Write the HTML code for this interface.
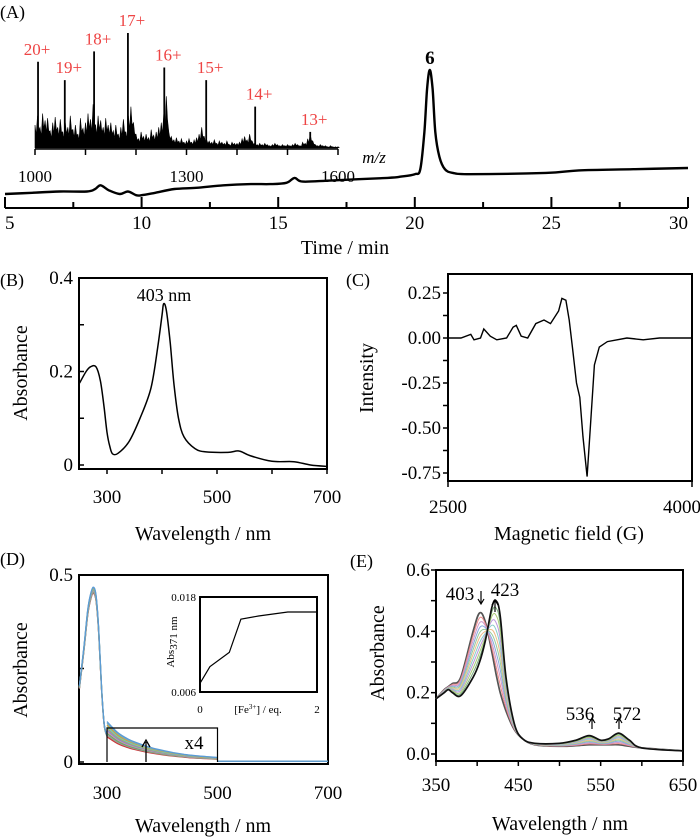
<!DOCTYPE html>
<html><head><meta charset="utf-8">
<style>
html,body{margin:0;padding:0;background:#fff;}
svg{display:block;font-family:"Liberation Serif",serif;}
</style></head>
<body>
<svg id="fig" width="700" height="838" viewBox="0 0 700 838" xmlns="http://www.w3.org/2000/svg">
<g id="A"></g>
<g id="B"></g>
<g id="C"></g>
<g id="D"></g>
<g id="E"></g>
</svg>
<script>
// ---------- DATA ----------
const chromTime = [5,6,7,8,8.3,8.5,8.8,9.2,9.5,9.8,10,10.5,11.2,12,13,14,14.7,15.3,15.6,15.9,17,19,19.5,20,20.2,20.35,20.45,20.55,20.65,20.75,20.9,21.1,21.4,22,24.8,26,28,30];
const chromSignal = [0.0,0.01,0.02,0.02,0.04,0.07,0.03,0.0,0.02,-0.01,-0.01,0.01,0.04,0.05,0.07,0.08,0.08,0.09,0.13,0.1,0.11,0.13,0.14,0.16,0.2,0.5,0.85,1.0,0.85,0.5,0.3,0.2,0.17,0.16,0.17,0.19,0.2,0.21];
const timeTicks = [5,10,15,20,25,30];
const peakLabel = "6";
const msPeakMz = [1006,1059,1117,1184,1256,1339,1436,1545];
const msPeakInt = [75,59,84,100,70,59,36,14];
const msPeakLabels = ["20+","19+","18+","17+","16+","15+","14+","13+"];
const msNoiseStart = 1000, msNoiseStep = 5;
const msNoiseInt = [20,28,18,30,24,26,15,22,27,18,
 25,14,22,18,28,16,20,12,26,17,
 22,30,25,38,20,28,24,18,26,20,
 22,15,20,12,18,25,14,28,36,22,
 12,8,14,10,12,9,16,11,14,18,
 22,30,45,14,10,7,9,6,8,5,
 6,8,5,7,9,12,18,10,7,6,
 5,7,4,6,5,4,6,3,5,4,
 4,5,8,10,7,12,6,4,3,4,
 3,4,3,2,3,4,3,2,3,2,
 3,2,3,4,3,2,5,4,8,12,
 6,3,2,3,2,2,1,2,1,1,1];
const mzTicks = [1000,1100,1200,1300,1400,1500,1600];
const mzLabels = [1000,1300,1600];
const bWave = [250,262,270,280,288,295,300,305,310,320,340,360,380,392,400,403,408,415,422,430,440,460,480,520,540,560,600,640,670,700];
const bAbs = [0.175,0.2,0.21,0.21,0.18,0.12,0.07,0.04,0.024,0.025,0.05,0.1,0.165,0.25,0.32,0.345,0.33,0.26,0.17,0.1,0.06,0.035,0.028,0.027,0.03,0.02,0.008,0.007,0.0,-0.003];
const bYTicks = [0,0.2,0.4];
const bXTicks = [300,500,700];
const cField = [2500,2580,2640,2660,2700,2720,2760,2800,2860,2900,2920,2950,2990,3040,3090,3130,3180,3200,3225,3245,3265,3290,3310,3330,3355,3375,3400,3430,3480,3600,3700,3800,3900,4000];
const cInt = [0,0,0.02,-0.01,0.0,0.05,0.01,-0.01,0.0,0.06,0.07,0.01,0.0,0.08,0.1,0.08,0.15,0.22,0.21,0.1,-0.05,-0.25,-0.33,-0.55,-0.77,-0.5,-0.15,-0.05,-0.02,0.0,-0.01,0.0,0.0,0.0];
const cYTicks = [0.25,0,-0.25,-0.5,-0.75];
const cYLabels = ["0.25","0.00","-0.25","-0.50","-0.75"];
const cXTicks = [2500,4000];
const dWave = [250,258,265,270,275,280,285,290,295,300];
const dAbs = [0.2,0.3,0.4,0.44,0.46,0.44,0.35,0.2,0.1,0.07];
const dTailWave = [300,320,340,360,380,400,420,440,460,480,500];
const dTailAbs = [0.09,0.065,0.05,0.04,0.032,0.026,0.021,0.017,0.014,0.012,0.01];
const dTailScales = [0.75,0.8,0.85,0.9,0.95,1.0,1.05,1.1,1.15,1.2];
const dColors = ["#c33","#999","#6a6","#c9a","#88c","#aa6","#6cc","#d9a030","#7ab","#5b9bd5"];
const dYTicks = [0,0.5];
const dXTicks = [300,500,700];
const insetEq = [0,0.17,0.5,0.7,1.0,1.5,2.0];
const insetAbs = [0.0071,0.0092,0.011,0.0152,0.0156,0.0161,0.0161];
const eWave = [350,360,365,370,380,395,403,410,418,423,428,435,445,455,470,500,520,536,550,560,572,585,600,650];
const eFinal = [0.18,0.2,0.21,0.2,0.19,0.25,0.3,0.37,0.48,0.5,0.45,0.25,0.1,0.05,0.035,0.035,0.045,0.06,0.045,0.05,0.068,0.045,0.02,0.01];
const eInitial = [0.18,0.21,0.22,0.23,0.25,0.4,0.46,0.43,0.33,0.26,0.2,0.14,0.08,0.05,0.03,0.025,0.027,0.03,0.03,0.03,0.03,0.025,0.02,0.01];
const eMix = [0,0.1,0.2,0.3,0.4,0.5,0.6,0.7,0.8,0.9,1];
const eColors = ["#555","#e88","#c9c","#8ad","#9c9","#eb8","#8cc","#b9d","#ac7","#7a7","#111"];
const eYTicks = [0,0.2,0.4,0.6];
const eYLabels = ["0.0","0.2","0.4","0.6"];
const eXTicks = [350,450,550,650];

// ---------- HELPERS ----------
const NS="http://www.w3.org/2000/svg";
const TF=19, TT=20;
function mk(parent,tag,attrs,text){const e=document.createElementNS(NS,tag);for(const k in attrs)e.setAttribute(k,attrs[k]);if(text!==undefined)e.textContent=text;parent.appendChild(e);return e;}
function path(xs,ys,fx,fy){return xs.map((x,i)=>(i?"L":"M")+fx(x).toFixed(1)+","+fy(ys[i]).toFixed(1)).join("");}
function smooth(xs,ys,fx,fy){
 const P=xs.map((x,i)=>[fx(x),fy(ys[i])]);let d="M"+P[0][0].toFixed(1)+","+P[0][1].toFixed(1);
 for(let i=0;i<P.length-1;i++){const p0=P[Math.max(0,i-1)],p1=P[i],p2=P[i+1],p3=P[Math.min(P.length-1,i+2)];
  const c1=[p1[0]+(p2[0]-p0[0])/6,p1[1]+(p2[1]-p0[1])/6],c2=[p2[0]-(p3[0]-p1[0])/6,p2[1]-(p3[1]-p1[1])/6];
  d+="C"+c1.map(v=>v.toFixed(1))+" "+c2.map(v=>v.toFixed(1))+" "+p2[0].toFixed(1)+","+p2[1].toFixed(1);}
 return d;}
function lin(d0,d1,r0,r1){return v=>r0+(v-d0)/(d1-d0)*(r1-r0);}
function box(g,l,r,t,b,name){let bx=mk(g,"rect",{x:l,y:t,width:r-l,height:b-t,fill:"none",stroke:"#000","stroke-width":2});
 }

// ---------- PANEL A ----------
(function(){
const g=document.getElementById("A");
let t=mk(g,"text",{x:0,y:18,"font-size":18},"(A)");

const x=lin(5,30,5,688), y=lin(0,1,194,70);
let ax=mk(g,"line",{x1:5,y1:208,x2:688,y2:208,stroke:"#000","stroke-width":2});

for(let v=5;v<=30;v+=2.5){const major=timeTicks.includes(v);
 let tk=mk(g,"line",{x1:x(v),x2:x(v),y1:208,y2:major?197:202,stroke:"#000","stroke-width":2});
 }
timeTicks.forEach(v=>{let l=mk(g,"text",{x:x(v),y:229,"font-size":TF,"text-anchor":v==5?"start":(v==30?"end":"middle")},v);
 });
let xt=mk(g,"text",{x:345,y:254,"font-size":TT,"text-anchor":"middle"},"Time / min");

let p=mk(g,"path",{d:smooth(chromTime,chromSignal,x,y),fill:"none",stroke:"#000","stroke-width":2.4});

let pl=mk(g,"text",{x:x(20.55),y:64,"font-size":19,"font-weight":"bold","text-anchor":"middle"},peakLabel);

const mx=lin(1000,1600,35,338), my=lin(0,100,148,33);
let ms=mk(g,"g",{});
const nMz=msNoiseInt.map((v,i)=>msNoiseStart+i*msNoiseStep);
let d="M"+mx(1000)+","+my(0);
nMz.forEach((m,i)=>{d+="L"+mx(m).toFixed(1)+","+my(msNoiseInt[i]).toFixed(1)+"L"+(mx(m)+1.2).toFixed(1)+","+my(msNoiseInt[i]*0.55).toFixed(1);});
d+="L"+mx(1600)+","+my(0)+"Z";
let np=mk(ms,"path",{d:d,fill:"#000",stroke:"#000","stroke-width":0.6});

msPeakMz.forEach((m,i)=>{
 let l=mk(ms,"line",{x1:mx(m),x2:mx(m),y1:my(0),y2:my(msPeakInt[i]),stroke:"#000","stroke-width":1.8});
 
 let tx=mk(ms,"text",{x:mx(m)+(i==0?-1:4),y:my(msPeakInt[i])-7,"font-size":17,fill:"#ee4444","text-anchor":"middle"},msPeakLabels[i]);
 });
let mxl=mk(ms,"line",{x1:mx(1000),x2:mx(1600),y1:149,y2:149,stroke:"#000","stroke-width":1.5});

mzTicks.forEach(v=>{let tk=mk(ms,"line",{x1:mx(v),x2:mx(v),y1:149,y2:155,stroke:"#000","stroke-width":1.5});
 });
mzLabels.forEach(v=>{let l=mk(ms,"text",{x:mx(v),y:182,"font-size":17,"text-anchor":"middle"},v);
 });
let mzt=mk(ms,"text",{x:374,y:163,"font-size":17,"font-style":"italic","text-anchor":"middle"},"m/z");

})();

// ---------- PANEL B ----------
(function(){
const g=document.getElementById("B");
let t=mk(g,"text",{x:0,y:286,"font-size":18},"(B)");
const x=lin(300,700,107,327), y=lin(0,0.4,465,278);
box(g,79,327,278,469,'panel-b-plot-frame');
for(let v=0;v<=0.4001;v+=0.1){let tk=mk(g,"line",{x1:79,x2:84,y1:y(v),y2:y(v),stroke:"#000","stroke-width":1.5});}
for(let v=300;v<=700;v+=100){let tk=mk(g,"line",{x1:x(v),x2:x(v),y1:469,y2:474,stroke:"#000","stroke-width":1.5});}
bYTicks.forEach(v=>{let l=mk(g,"text",{x:73,y:y(v)+6,"font-size":TF,"text-anchor":"end"},v);});
bXTicks.forEach(v=>{let l=mk(g,"text",{x:x(v),y:503,"font-size":TF,"text-anchor":"middle"},v);});
let xt=mk(g,"text",{x:203,y:540,"font-size":TT,"text-anchor":"middle"},"Wavelength / nm");
let yt=mk(g,"text",{x:0,y:0,"font-size":TT,"text-anchor":"middle",transform:"translate(27,373) rotate(-90)"},"Absorbance");
let p=mk(g,"path",{d:smooth(bWave,bAbs,x,y),fill:"none",stroke:"#000","stroke-width":1.5});
let a=mk(g,"text",{x:164,y:301,"font-size":18,"text-anchor":"middle"},"403 nm");
})();

// ---------- PANEL C ----------
(function(){
const g=document.getElementById("C");
let t=mk(g,"text",{x:346,y:286,"font-size":18},"(C)");
const x=lin(2500,4000,448,692), y=lin(0,0.25,338,293);
box(g,448,692,274,481,'panel-c-plot-frame');
for(let v=-0.75;v<=0.3;v+=0.125){let tk=mk(g,"line",{x1:443,x2:448,y1:y(v),y2:y(v),stroke:"#000","stroke-width":1.5});}
cXTicks.forEach(v=>{let tk=mk(g,"line",{x1:x(v),x2:x(v),y1:481,y2:487,stroke:"#000","stroke-width":1.5});});
cYTicks.forEach((v,i)=>{let l=mk(g,"text",{x:441,y:y(v)+6,"font-size":TF,"text-anchor":"end"},cYLabels[i]);});
cXTicks.forEach((v,i)=>{let l=mk(g,"text",{x:x(v)+(i?-10:0),y:513,"font-size":TF,"text-anchor":"middle"},v);});
let xt=mk(g,"text",{x:569,y:540,"font-size":TT,"text-anchor":"middle"},"Magnetic field (G)");
let yt=mk(g,"text",{x:0,y:0,"font-size":TT,"text-anchor":"middle",transform:"translate(373,378) rotate(-90)"},"Intensity");
let p=mk(g,"path",{d:path(cField,cInt,x,y),fill:"none",stroke:"#000","stroke-width":1.4});
})();

// ---------- PANEL D ----------
(function(){
const g=document.getElementById("D");
let t=mk(g,"text",{x:0,y:565,"font-size":18},"(D)");
const x=lin(300,700,107,328), y=lin(0,0.5,762,575);
box(g,79,328,575,764,'panel-d-plot-frame');
for(let v=0;v<=0.5001;v+=0.25){let tk=mk(g,"line",{x1:79,x2:84,y1:y(v),y2:y(v),stroke:"#000","stroke-width":1.5});}
dYTicks.forEach(v=>{let l=mk(g,"text",{x:73,y:y(v)+6,"font-size":TF,"text-anchor":"end"},v);});
dXTicks.forEach(v=>{let l=mk(g,"text",{x:x(v),y:799,"font-size":TF,"text-anchor":"middle"},v);});
let xt=mk(g,"text",{x:203,y:832,"font-size":TT,"text-anchor":"middle"},"Wavelength / nm");
let yt=mk(g,"text",{x:0,y:0,"font-size":TT,"text-anchor":"middle",transform:"translate(27,670) rotate(-90)"},"Absorbance");
dTailScales.forEach((s,i)=>{
 let p=mk(g,"path",{d:smooth(dWave,dAbs.map(v=>v*(0.98+i*0.004)),x,y),fill:"none",stroke:dColors[i],"stroke-width":1.3});
 
 let q=mk(g,"path",{d:smooth(dTailWave,dTailAbs.map(v=>v*s),x,y),fill:"none",stroke:dColors[i],"stroke-width":1.3});
 
 let r=mk(g,"line",{x1:x(500),x2:x(700),y1:y(0.002),y2:y(0.002),stroke:dColors[i],"stroke-width":1.2});
 });
let ib=mk(g,"path",{d:`M${x(300)},762V728H${x(500)}V762`,fill:"none",stroke:"#000","stroke-width":1.2});
let ar=mk(g,"path",{d:"M146,762V742M142,747L146,740L150,747",fill:"none",stroke:"#000","stroke-width":1.3});
let x4=mk(g,"text",{x:194,y:749,"font-size":19,"text-anchor":"middle"},"x4");
const ix=lin(0,2,200,317), iy=lin(0.006,0.018,692,597);
box(g,200,317,597,692,'inset-plot-frame');
[0.006,0.018].forEach(v=>{let l=mk(g,"text",{x:196,y:iy(v)+4,"font-size":11,"text-anchor":"end"},v.toFixed(3));});
[0,2].forEach(v=>{let l=mk(g,"text",{x:ix(v),y:713,"font-size":11,"text-anchor":"middle"},v);});
let ixt=mk(g,"text",{x:258,y:713,"font-size":11,"text-anchor":"middle"});
ixt.innerHTML='[Fe<tspan font-size="7" dy="-4">3+</tspan><tspan dy="4">] / eq.</tspan>';
let iyt=mk(g,"text",{x:0,y:0,"font-size":11,"text-anchor":"middle",transform:"translate(174,642) rotate(-90)"});
iyt.innerHTML='Abs<tspan dy="3">371 nm</tspan>';
let ip=mk(g,"path",{d:path(insetEq,insetAbs,ix,iy),fill:"none",stroke:"#000","stroke-width":1.2});
})();

// ---------- PANEL E ----------
(function(){
const g=document.getElementById("E");
let t=mk(g,"text",{x:350,y:567,"font-size":18},"(E)");
const x=lin(350,650,436,683), y=lin(0,0.6,754,570);
box(g,436,683,570,761,'panel-e-plot-frame');
for(let v=0;v<=0.6001;v+=0.1){let tk=mk(g,"line",{x1:431,x2:436,y1:y(v),y2:y(v),stroke:"#000","stroke-width":1.5});}
for(let v=350;v<=650;v+=50){let tk=mk(g,"line",{x1:x(v),x2:x(v),y1:761,y2:766,stroke:"#000","stroke-width":1.5});}
eYTicks.forEach((v,i)=>{let l=mk(g,"text",{x:430,y:y(v)+6,"font-size":TF,"text-anchor":"end"},eYLabels[i]);});
eXTicks.forEach(v=>{let l=mk(g,"text",{x:x(v),y:791,"font-size":TF,"text-anchor":"middle"},v);});
let xt=mk(g,"text",{x:560,y:830,"font-size":TT,"text-anchor":"middle"},"Wavelength / nm");
let yt=mk(g,"text",{x:0,y:0,"font-size":TT,"text-anchor":"middle",transform:"translate(384,653) rotate(-90)"},"Absorbance");
eMix.forEach((f,i)=>{
 const ys=eInitial.map((v,j)=>v*(1-f)+eFinal[j]*f);
 let p=mk(g,"path",{d:smooth(eWave,ys,x,y),fill:"none",stroke:eColors[i],"stroke-width":(i==0||i==eMix.length-1)?1.7:1.0});
 });
function ann(tx,ty,label,ax,y1,y2,name){
 let l=mk(g,"text",{x:tx,y:ty,"font-size":19,"text-anchor":"middle"},label);
 const dir=y2<y1?-1:1;
 let a=mk(g,"path",{d:`M${ax},${y1}V${y2}M${ax-3},${y2-dir*5}L${ax},${y2}L${ax+3},${y2-dir*5}`,fill:"none",stroke:"#000","stroke-width":1.2});
 }
ann(460,600,"403",481,591,604,'peak-403');
ann(505,596,"423",495,612,600,'peak-423');
ann(580,720,"536",592,729,718,'peak-536');
ann(627,720,"572",619,729,718,'peak-572');
})();
</script>
</body></html>
